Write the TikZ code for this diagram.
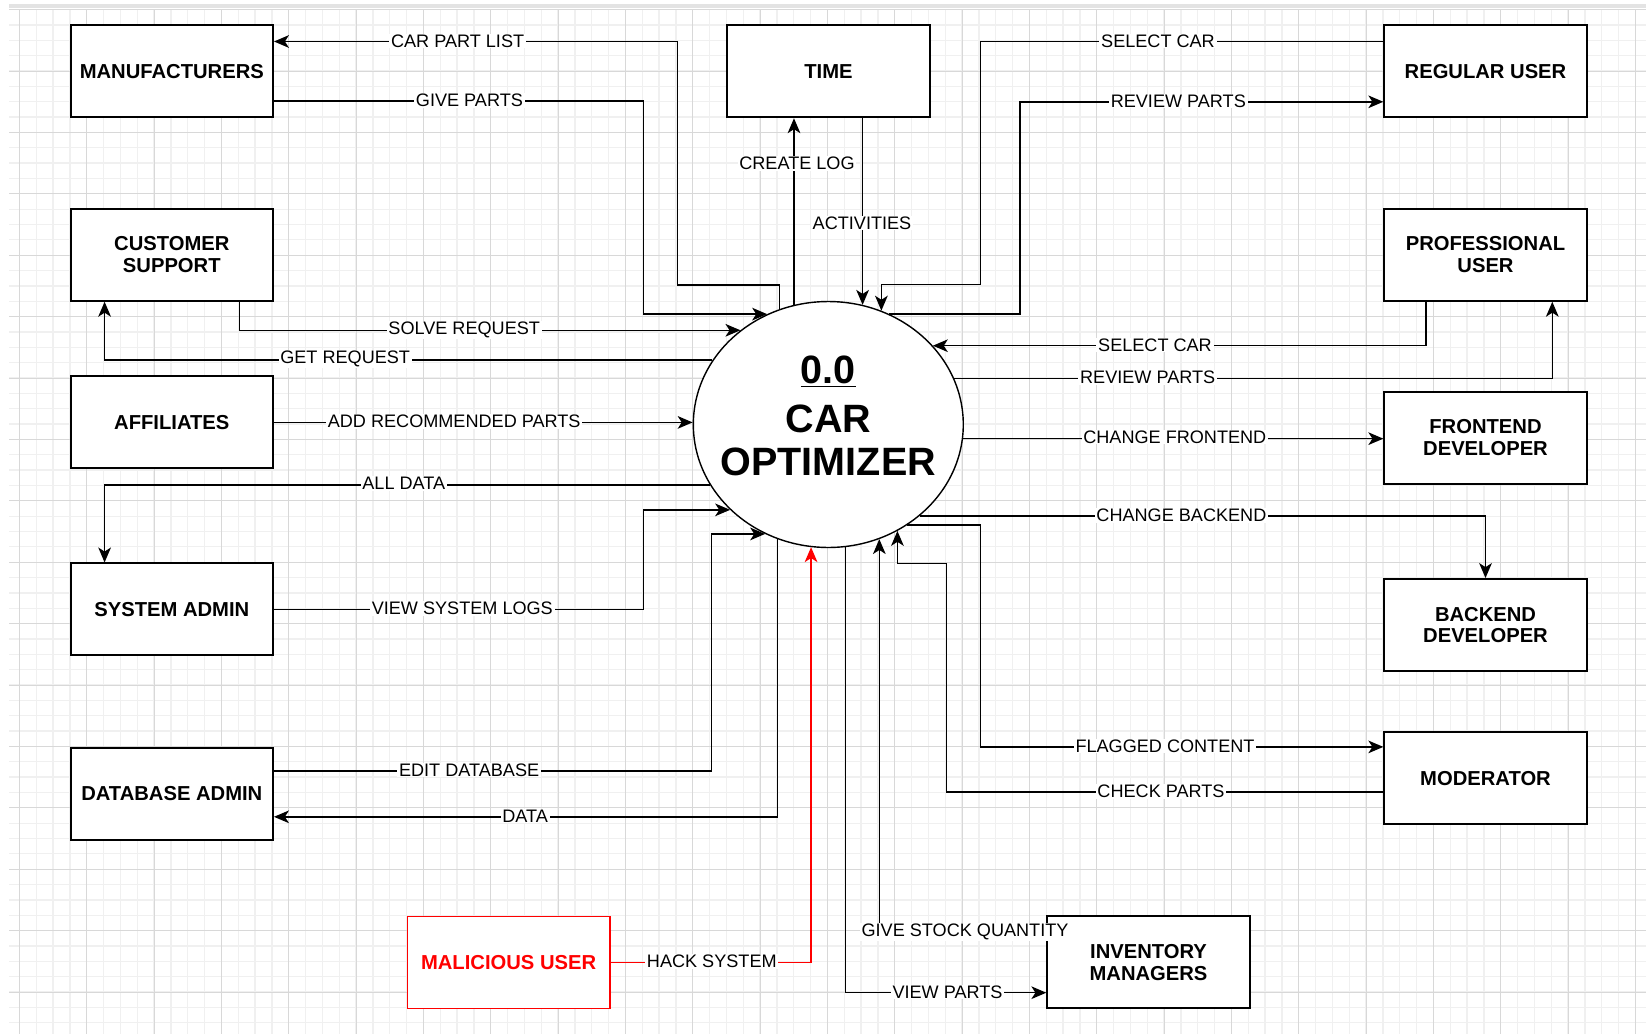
\documentclass[tikz,border=0pt]{standalone}
\usepackage{fontspec}
\setmainfont{Liberation Sans}
\usetikzlibrary{shapes.geometric,arrows.meta}

\definecolor{gridfine}{HTML}{F0F0F0}
\definecolor{gridbold}{HTML}{D8D8D8}
\definecolor{hackred}{HTML}{FF0000}

\tikzset{
  entity/.style={draw, line width=1.1pt, fill=white, minimum width=4.05cm, minimum height=1.84cm,
    inner sep=2pt, align=center, font=\fontsize{11.5}{12.3}\selectfont\bfseries},
  process/.style={draw, ellipse, line width=0.8pt, fill=white, minimum width=5.4cm,
    minimum height=4.92cm, inner sep=0pt},
  flow/.style={line width=0.85pt, -{Stealth[length=8.5pt,width=7.2pt,inset=2.3pt]}},
  lbl/.style={fill=white, inner xsep=1pt, inner ysep=0.5pt, yshift=0.4pt,
    font=\fontsize{10.3}{12}\selectfont},
}

\begin{document}
\begin{tikzpicture}[x=0.02cm,y=-0.02cm]
\useasboundingbox (0,0) rectangle (1646,1034);
% grid
\foreach \k in {0,...,96} \draw[gridfine,line width=0.7pt] ({19.4+16.833*\k},9.6) -- ({19.4+16.833*\k},1034);
\foreach \j in {0,...,66} \draw[gridfine,line width=0.7pt] (9,{9.6+15.35*\j}) -- (1646,{9.6+15.35*\j});
\foreach \k in {0,...,24} \draw[gridbold,line width=0.55pt] ({19.4+67.33*\k},9.6) -- ({19.4+67.33*\k},1034);
\foreach \j in {0,...,16} \draw[gridbold,line width=0.55pt] (9,{9.6+61.4*\j}) -- (1646,{9.6+61.4*\j});
\fill[gray!22] (9,4.5) rectangle (1646,8.5);

% external entities
\node[entity] (manu) at (171.8,71.3) {MANUFACTURERS};
\node[entity] (cust) at (171.8,254.8) {CUSTOMER\\SUPPORT};
\node[entity] (affil) at (171.8,422.4) {AFFILIATES};
\node[entity] (sysadm) at (171.8,609.4) {SYSTEM ADMIN};
\node[entity] (dbadm) at (171.8,793.6) {DATABASE ADMIN};
\node[entity, draw=hackred, text=hackred, line width=0.9pt] (mal) at (508.6,962.4) {MALICIOUS USER};
\node[entity] (time) at (828.5,71.3) {TIME};
\node[entity] (regular) at (1485.5,71.3) {REGULAR USER};
\node[entity] (prof) at (1485.5,254.8) {PROFESSIONAL\\USER};
\node[entity] (front) at (1485.5,437.8) {FRONTEND\\DEVELOPER};
\node[entity] (back) at (1485.5,625) {BACKEND\\DEVELOPER};
\node[entity] (mod) at (1485.5,778.3) {MODERATOR};
\node[entity] (inv) at (1148.5,962.4) {INVENTORY\\MANAGERS};

% process
\node[process] (circ) at (828.3,424.5) {};
\node[font=\fontsize{22.5}{24.5}\selectfont\bfseries, align=center] (title) at (828.3,416)
  {\underline{0.0}\\[3pt]CAR\\OPTIMIZER};

% data flows, left side
\draw[flow] (circ.113) |- (677.3,285.2) |- (manu.east |- 0,41.5)
  node[lbl] at (457.6,41.5) {CAR PART LIST};
\draw[flow] (manu.east |- 0,101.2) -- (643.3,101.2) |- (circ.119)
  node[lbl] at (469.4,101.2) {GIVE PARTS};
\draw[flow] (circ.106) -- (circ.106 |- time.south)
  node[lbl] at (797,164.2) {CREATE LOG};
\draw[flow] (time.south -| circ.74) -- (circ.74)
  node[lbl] at (862,223.9) {ACTIVITIES};
\draw[flow] (cust.south -| 239.5,0) |- (circ.133)
  node[lbl] at (464.2,330.7) {SOLVE REQUEST};
\draw[flow] (circ.151) -| (cust.south -| 104.6,0)
  node[lbl] at (345.2,359.9) {GET REQUEST};
\draw[flow] (affil.east) -- (affil.east -| circ.west)
  node[lbl] at (454.2,422.4) {ADD RECOMMENDED PARTS};
\draw[flow] (circ.207) -| (sysadm.north -| 104.6,0)
  node[lbl] at (403.8,484.2) {ALL DATA};
\draw[flow] (sysadm.east) -- (sysadm.east -| 643.3,0) |- (circ.221)
  node[lbl] at (462.3,609.4) {VIEW SYSTEM LOGS};
\draw[flow] (dbadm.east |- 0,770.8) -- (711.3,770.8) |- (circ.240)
  node[lbl] at (469.1,770.8) {EDIT DATABASE};
\draw[flow] (circ.246) |- (dbadm.east |- 0,816.8)
  node[lbl] at (525.1,816.8) {DATA};
\draw[flow, hackred] (mal.east) -| (circ.262)
  node[lbl, text=black] at (711.8,962.4) {HACK SYSTEM};

% data flows, right side
\draw[flow] (regular.west |- 0,41.5) -| (980.7,284.6) -| (circ.65)
  node[lbl] at (1158,41.5) {SELECT CAR};
\draw[flow] (circ.61) -| (1020.2,101.8) -- (regular.west |- 0,101.8)
  node[lbl] at (1178.3,101.8) {REVIEW PARTS};
\draw[flow] (prof.south -| 1425.9,0) |- (circ.37)
  node[lbl] at (1155,345.9) {SELECT CAR};
\draw[flow] (circ.20) -| (prof.south -| 1552.3,0)
  node[lbl] at (1147.7,378.1) {REVIEW PARTS};
\draw[flow] (circ.354) -- (circ.354 -| front.west)
  node[lbl] at (1174.8,437.8) {CHANGE FRONTEND};
\draw[flow] (circ.315) -| (back.north)
  node[lbl] at (1181.4,516) {CHANGE BACKEND};
\draw[flow] (circ.308) -| (980.7,746.9) -- (mod.west |- 0,746.9)
  node[lbl] at (1165,746.9) {FLAGGED CONTENT};
\draw[flow] (mod.west |- 0,792.2) -| (946.4,563.7) -| (circ.303)
  node[lbl] at (1161,792.2) {CHECK PARTS};
\draw[flow] (inv.west |- 0,932.3) -| (circ.294)
  node[lbl] at (965,932.3) {GIVE STOCK QUANTITY};
\draw[flow] (circ.278) |- (inv.west |- 0,992.7)
  node[lbl] at (947.5,992.7) {VIEW PARTS};
\end{tikzpicture}
\end{document}
